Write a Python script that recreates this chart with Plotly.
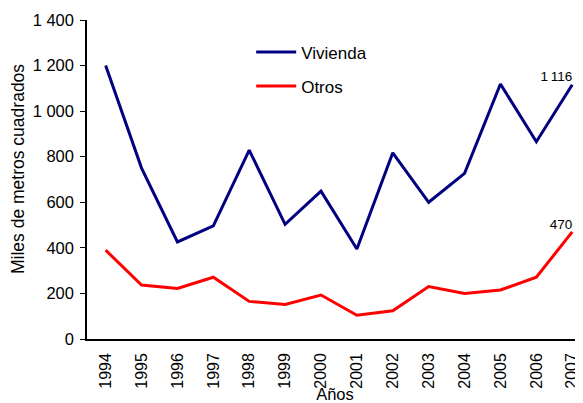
import plotly.graph_objects as go

years = ["1994", "1995", "1996", "1997", "1998", "1999", "2000",
         "2001", "2002", "2003", "2004", "2005", "2006", "2007"]
vivienda = [1200, 750, 426, 496, 829, 503, 649, 395, 817, 600, 727, 1119, 866, 1116]
otros = [390, 237, 222, 271, 165, 152, 193, 104, 124, 230, 200, 215, 271, 470]
vivienda_labels = [""] * 13 + ["1\u2009116"]
otros_labels = [""] * 13 + ["470"]

font_family = "Liberation Sans, Arial, sans-serif"

# The page body has an 8px margin, so the figure is sized to fit the window.
W, H = 575, 395
ML, MT, MB, MR = 79, 12, 64, 0
plot_h = H - MT - MB

fig = go.Figure()
fig.add_trace(go.Scatter(x=years, y=vivienda, mode="lines+text", name="Vivienda",
                         text=vivienda_labels, textposition="top left",
                         textfont=dict(size=13.5, color="#000000"), cliponaxis=False,
                         line=dict(color="#000080", width=3), legendgroup="a"))
fig.add_trace(go.Scatter(x=years, y=otros, mode="lines+text", name="Otros",
                         text=otros_labels, textposition="top left",
                         textfont=dict(size=13.5, color="#000000"), cliponaxis=False,
                         line=dict(color="#FF0000", width=3), legendgroup="b"))

# y-axis title as annotation (centred slightly above the plot middle)
fig.add_annotation(xref="paper", yref="paper", x=(10 - ML) / (W - ML - MR),
                   y=(339 - 169) / plot_h, text="Miles de metros cuadrados",
                   textangle=-90, showarrow=False, xanchor="center", yanchor="middle",
                   font=dict(size=17.5, color="#000000", family=font_family))

fig.update_layout(
    width=W, height=H,
    margin=dict(l=ML, r=MR, t=MT, b=MB, autoexpand=False),
    paper_bgcolor="white", plot_bgcolor="white",
    font=dict(family=font_family, size=16, color="#000000"),
    separators=", ",
    showlegend=True,
    legend=dict(x=0.331, y=0.955, xanchor="left", yanchor="top",
                bgcolor="rgba(0,0,0,0)", font=dict(size=17),
                tracegroupgap=9, itemwidth=40),
    xaxis=dict(type="category", range=[-0.52, 13.3], showline=True,
               linecolor="#000000", linewidth=1.5, ticks="", tickangle=-90,
               showgrid=False, zeroline=False, automargin=False,
               ticklabelstandoff=6,
               title=dict(text="Años", standoff=3, font=dict(size=16.5)),
               tickfont=dict(size=16)),
    yaxis=dict(range=[0, 1400], dtick=200, tickformat=",d", showline=True,
               linecolor="#000000", linewidth=1.5, ticks="outside", ticklen=5,
               tickcolor="#000000", showgrid=False, zeroline=False,
               ticklabelstandoff=3,
               automargin=False, tickfont=dict(size=16.5)),
)

fig.write_html("out.html")
